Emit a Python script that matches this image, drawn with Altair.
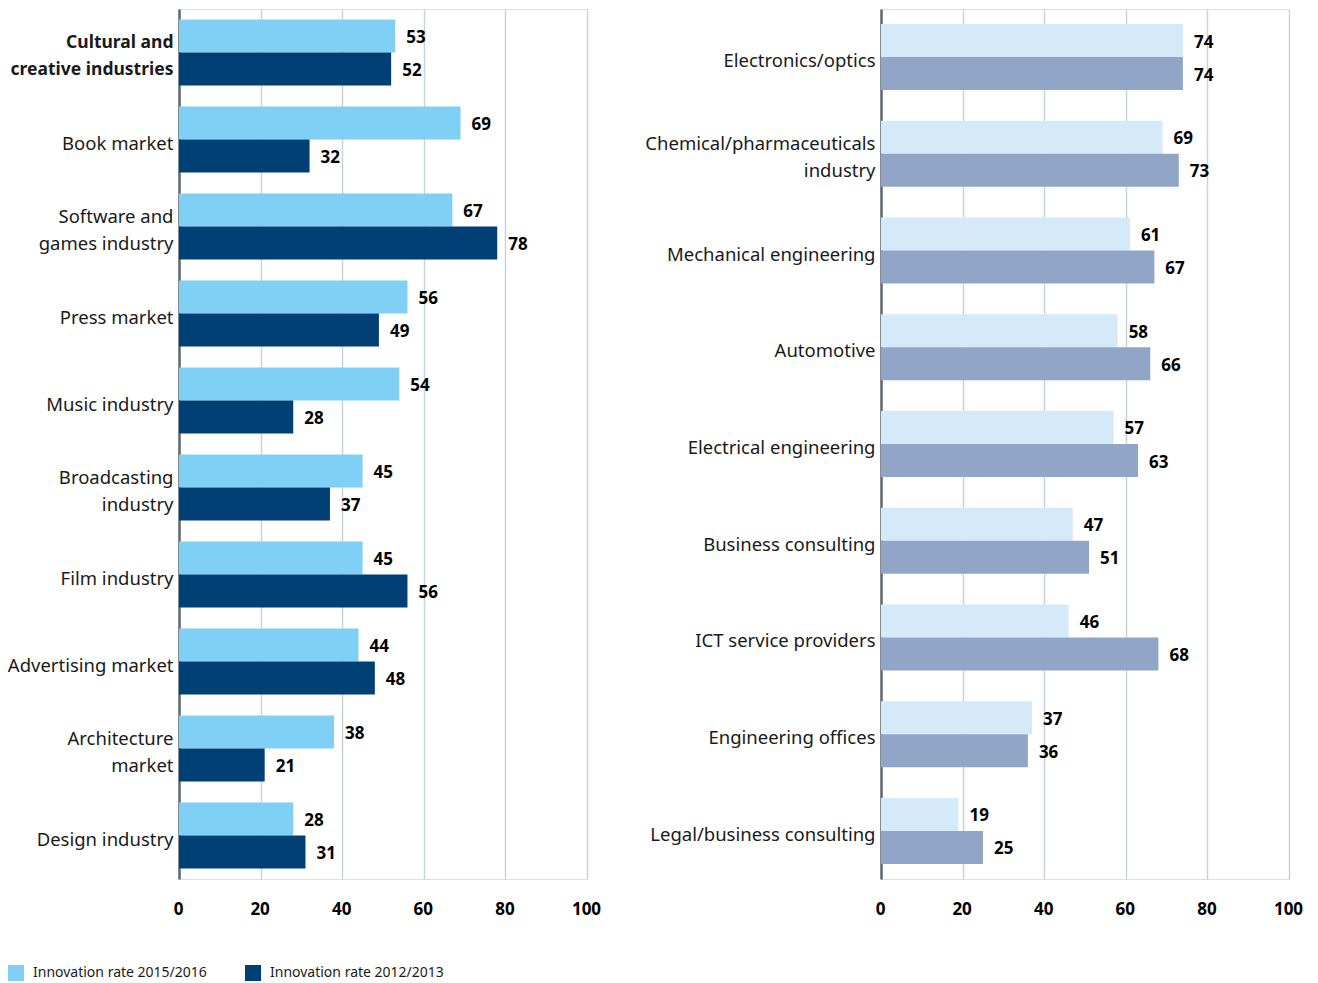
import altair as alt
import pandas as pd

series = ["Innovation rate 2015/2016", "Innovation rate 2012/2013"]

left_categories = [
    "Cultural and|creative industries", "Book market", "Software and|games industry",
    "Press market", "Music industry", "Broadcasting|industry", "Film industry",
    "Advertising market", "Architecture|market", "Design industry",
]
left_2015 = [53, 69, 67, 56, 54, 45, 45, 44, 38, 28]
left_2012 = [52, 32, 78, 49, 28, 37, 56, 48, 21, 31]

right_categories = [
    "Electronics/optics", "Chemical/pharmaceuticals|industry", "Mechanical engineering",
    "Automotive", "Electrical engineering", "Business consulting",
    "ICT service providers", "Engineering offices", "Legal/business consulting",
]
right_2015 = [74, 69, 61, 58, 57, 47, 46, 37, 19]
right_2012 = [74, 73, 67, 66, 63, 51, 68, 36, 25]

x_ticks = [0, 20, 40, 60, 80, 100]

FONT = "Noto Sans"


def make_df(cats, a, b):
    rows = []
    for c, va, vb in zip(cats, a, b):
        rows.append({"category": c, "series": series[0], "value": va})
        rows.append({"category": c, "series": series[1], "value": vb})
    return pd.DataFrame(rows)


def panel(cats, a, b, colors, pad_inner, pad_outer, extent, show_legend, bold_first):
    df = make_df(cats, a, b)
    first_test = f"datum.value === '{cats[0]}'"
    label_weight = {"condition": {"test": first_test, "value": "bold"}, "value": "normal"} if bold_first else "normal"
    label_size = {"condition": {"test": first_test, "value": 17.5}, "value": 18.5} if bold_first else 18.5
    label_offset = {"condition": {"test": "indexof(datum.value, '|') >= 0", "value": -9.5}, "value": 4}
    y = alt.Y(
        "category:N", sort=cats, title=None,
        scale=alt.Scale(paddingInner=pad_inner, paddingOuter=pad_outer),
        axis=alt.Axis(
            labelExpr="split(datum.label, '|')", labelFont=FONT, labelFontSize=label_size,
            labelColor="#1a1a1a", labelLineHeight=27, labelPadding=6, ticks=False,
            domain=True, domainColor="#5d6870", domainWidth=2.5, grid=False,
            labelLimit=300, minExtent=extent, maxExtent=extent,
            labelFontWeight=label_weight, labelOffset=label_offset,
        ),
    )
    x = alt.X(
        "value:Q", title=None,
        scale=alt.Scale(domain=[0, 100], nice=False),
        axis=alt.Axis(
            values=x_ticks, labelFont=FONT, labelFontSize=17, labelFontWeight="bold",
            labelColor="#000000", labelPadding=22, ticks=False, domain=False,
            labelFlush=False, labelOffset=-1,
            grid=True, gridColor="#c9d3da", gridWidth=1.5,
        ),
    )
    yoff = alt.YOffset("series:N", sort=series, scale=alt.Scale(paddingInner=0, paddingOuter=0))
    legend = alt.Legend(
        title=None, orient="none", direction="horizontal", legendX=-171, legendY=956,
        symbolType="square", symbolSize=256, symbolStrokeWidth=0, symbolOpacity=1,
        labelFont=FONT, labelFontSize=14, labelColor="#1a1a1a", labelOffset=9,
        labelLimit=400, columnPadding=38, padding=0,
    ) if show_legend else None
    color = alt.Color("series:N", sort=series, scale=alt.Scale(domain=series, range=colors), legend=legend)
    base = alt.Chart(df).encode(y=y, yOffset=yoff)
    bars = base.mark_bar(opacity=1).encode(x=x, color=color)
    text = base.mark_text(
        align="left", baseline="middle", dx=11, dy=2, font=FONT, fontSize=17, fontWeight="bold", color="#000000"
    ).encode(x=alt.X("value:Q"), text=alt.Text("value:Q"))
    return alt.layer(bars, text).properties(width=408, height=870)


left = panel(left_categories, left_2015, left_2012, ["#80cff5", "#004075"], 0.24, 0.12, 171, True, True)
right = panel(right_categories, right_2015, right_2012, ["#d4eaf9", "#91a6c6"], 0.317, 0.155, 272, False, False)

chart = alt.hconcat(left, right, spacing=6, padding={"left": -2, "top": 0, "right": 0, "bottom": 0}).resolve_scale(
    x="independent", y="independent", yOffset="independent", color="independent"
).configure_view(stroke=None).configure(background="#ffffff")

chart.save("out.html", embed_options={"renderer": "svg", "actions": False})
